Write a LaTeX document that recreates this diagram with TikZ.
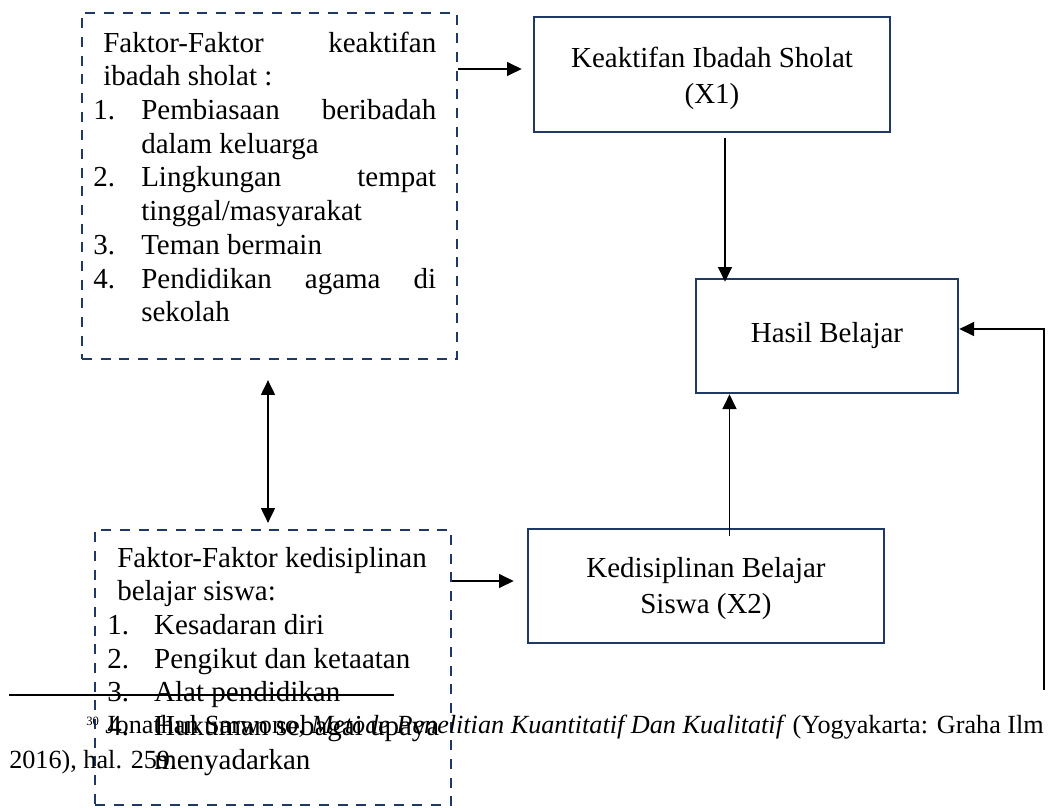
\documentclass[tikz,border=0pt]{standalone}
\usepackage{fontspec}
\setmainfont{Liberation Serif}
\usetikzlibrary{arrows.meta,calc}
\definecolor{navy}{HTML}{1F3864}
\tikzset{
 dbox/.style={draw=navy, line width=1.75pt, dash pattern=on 7.5pt off 6.5pt, rectangle, inner sep=0pt},
 sbox/.style={draw=navy, line width=2pt, rectangle, inner sep=0pt, align=center, font=\fontsize{21.75pt}{27pt}\selectfont},
 arr/.style={draw=black, line width=0.8pt, -{Triangle[length=11pt,width=10.5pt]}},
 dbl/.style={draw=black, line width=0.8pt, {Triangle[length=11pt,width=10.5pt]}-{Triangle[length=11pt,width=10.5pt]}},
 ftext/.style={inner sep=0pt, anchor=base west, font=\fontsize{21.75pt}{25.3pt}\selectfont},
 fnote/.style={inner sep=0pt, anchor=base west, font=\fontsize{19.65pt}{23pt}\selectfont},
}
\begin{document}
\begin{tikzpicture}[x=0.75pt,y=-0.75pt]
\useasboundingbox (0,0) rectangle (1049,807);
\clip (0,0) rectangle (1049,807);
% boxes
\node[dbox, minimum width=281.25pt, minimum height=259.5pt] (F1) at (269.5,186) {};
\node[dbox, minimum width=267pt, minimum height=206.25pt] (F2) at (273,667.5) {};
\node[sbox, minimum width=267pt, minimum height=86.25pt] (K) at (712,74.5) {\rule{0pt}{20.4pt}Keaktifan Ibadah Sholat\\(X1)};
\node[sbox, minimum width=196.5pt, minimum height=85.5pt] (H) at (827,336) {Hasil Belajar};
\node[sbox, minimum width=267pt, minimum height=85.5pt] (X) at (706,586) {\rule{0pt}{18.2pt}Kedisiplinan Belajar\\Siswa (X2)};
% left texts
\node[ftext] (F1t) at (93,52) {\parbox[t]{257.25pt}{%
\hspace*{7.5pt}Faktor-Faktor\hfill keaktifan\\
\hspace*{7.5pt}ibadah sholat :\\
\makebox[36pt][l]{1.}Pembiasaan\hfill beribadah\\
\hspace*{36pt}dalam keluarga\\
\makebox[36pt][l]{2.}Lingkungan\hfill tempat\\
\hspace*{36pt}tinggal/masyarakat\\
\makebox[36pt][l]{3.}Teman bermain\\
\makebox[36pt][l]{4.}Pendidikan\hfill agama\hfill di\\
\hspace*{36pt}sekolah}};
\node[ftext] (F2t) at (107,567) {\parbox[t]{255pt}{%
\hspace*{7.5pt}Faktor-Faktor kedisiplinan\\
\hspace*{7.5pt}belajar siswa:\\
\makebox[35.25pt][l]{1.}Kesadaran diri\\
\makebox[35.25pt][l]{2.}Pengikut dan ketaatan\\
\makebox[35.25pt][l]{3.}Alat pendidikan\\
\makebox[35.25pt][l]{4.}Hukuman sebagai upaya\\
\hspace*{35.25pt}menyadarkan}};
% connectors
\coordinate (a1) at (0,69);
\coordinate (a2) at (0,329);
\coordinate (a3) at (0,581);
\coordinate (v1) at (725,0);
\coordinate (v2) at (729.5,0);
\coordinate (v3) at (268,0);
\coordinate (r0) at (1044,690);
\draw[arr, shorten >=8.25pt] (F1.east |- a1) -- (K.west |- a1);
\draw[arr] ([yshift=-3.75pt]K.south -| v1) -- ([yshift=-3pt]H.north -| v1);
\draw[arr] ([yshift=-6pt]X.north -| v2) -- (H.south -| v2);
\draw[dbl] ([yshift=-15pt]F1.south -| v3) -- ([yshift=4.5pt]F2.north -| v3);
\draw[arr, shorten >=9.75pt] (F2.east |- a3) -- (X.west |- a3);
\draw[arr] (r0) |- (H.east |- a2);
% footnote
\coordinate (fr1) at (9,695);
\coordinate (fr2) at (394,695);
\draw[line width=1.9pt] (fr1) -- (fr2);
\node[fnote] (fn1) at (86,733) {\raisebox{6pt}{\fontsize{9.5pt}{10pt}\selectfont 30} Jonathan Sarwono, \textit{Metode Penelitian Kuantitatif Dan Kualitatif} (Yogyakarta: Graha Ilm};
\node[fnote] (fn2) at (9,768) {2016), hal. 259.};
\end{tikzpicture}
\end{document}
